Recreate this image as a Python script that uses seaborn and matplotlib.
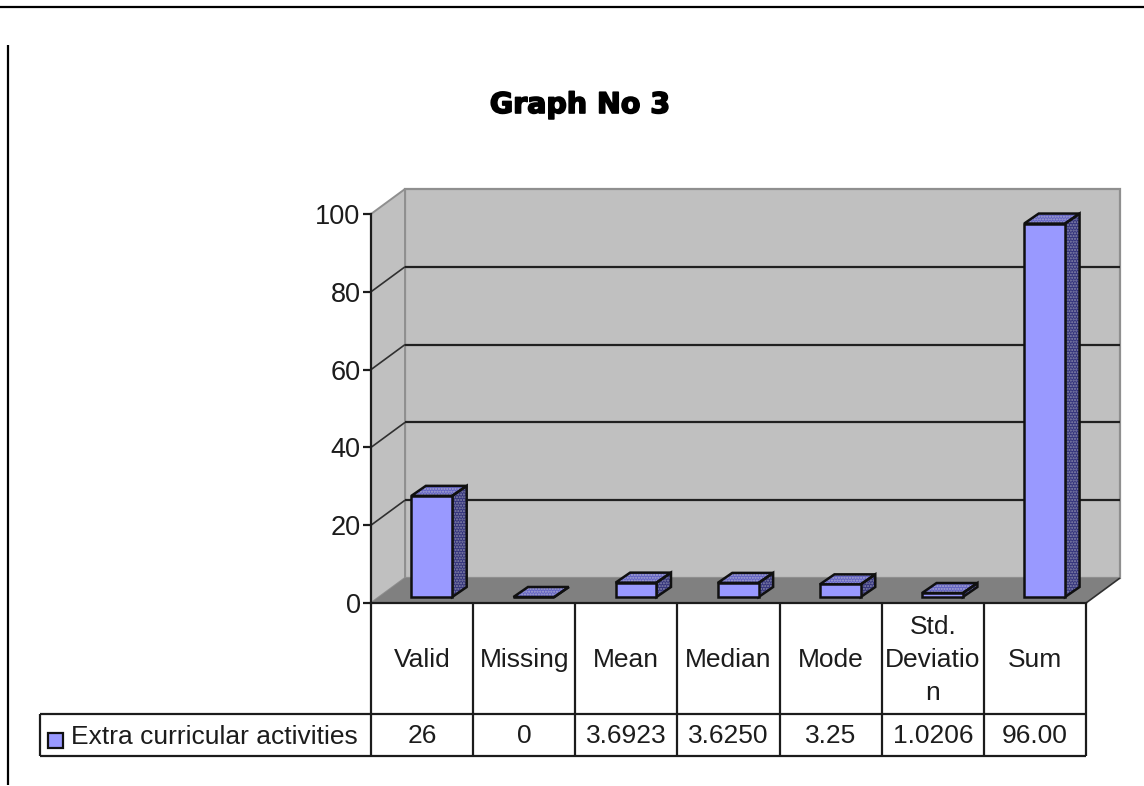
import matplotlib
matplotlib.use("Agg")
import matplotlib.pyplot as plt
import matplotlib.patheffects as pe
from matplotlib.patches import Polygon, Rectangle
import seaborn as sns
import pandas as pd

# Descriptive statistics shown as columns and in the data table
categories = ["Valid", "Missing", "Mean", "Median", "Mode", "Std.\nDeviatio\nn", "Sum"]
values = [26, 0, 3.6923, 3.6250, 3.25, 1.0206, 96.00]
value_labels = ["26", "0", "3.6923", "3.6250", "3.25", "1.0206", "96.00"]
y_ticks = [0, 20, 40, 60, 80, 100]
series_name = "Extra curricular activities"
chart_title = "Graph No 3"

W, H = 1144, 786
LEFT, RIGHT, ZERO, TOP = 371, 1086, 603, 214
FRONT = "#9999FF"
INK = "#1c1c1c"

sns.set_theme(style="white")
plt.rcParams["font.family"] = ["Liberation Sans", "DejaVu Sans"]
plt.rcParams["hatch.linewidth"] = 1.0

fig = plt.figure(figsize=(W / 100, H / 100), dpi=100, facecolor="white")
ax = fig.add_axes([LEFT / W, 1 - ZERO / H, (RIGHT - LEFT) / W, (ZERO - TOP) / H])
ax.patch.set_alpha(0)

frame = pd.DataFrame({"stat": categories, "value": values})
sns.barplot(data=frame, x="stat", y="value", color=FRONT, saturation=1, width=0.4,
            edgecolor="#101010", linewidth=1.8, ax=ax, zorder=6)
ax.set_xlim(-0.5, 6.5)
ax.set_ylim(0, 100)
ax.set_xlabel("")
ax.set_ylabel("")

# Pixel lengths expressed in data units, for the oblique projection
UX = (len(categories)) / (RIGHT - LEFT)
UY = 100 / (ZERO - TOP)


def px(x):
    return -0.5 + (x - LEFT) * UX


def py(y):
    return (ZERO - y) * UY


WALL_DX, WALL_DY = 34 * UX, 25 * UY
BAR_SHIFT_X, BAR_SHIFT_Y = 9.7 * UX, 6 * UY
DEPTH_X, DEPTH_Y = 14.5 * UX, 10 * UY
X0, X1 = -0.5, 6.5


def poly(points, **kw):
    kw.setdefault("clip_on", False)
    ax.add_patch(Polygon(points, closed=True, **kw))


def line(xs, ys, color=INK, lw=1.6, z=8):
    ax.plot(xs, ys, color=color, lw=lw, clip_on=False, zorder=z, solid_capstyle="butt")


# Back wall, side wall and floor
poly([(X0 + WALL_DX, WALL_DY), (X0 + WALL_DX, 100 + WALL_DY),
      (X1 + WALL_DX, 100 + WALL_DY), (X1 + WALL_DX, WALL_DY)],
     facecolor="#C0C0C0", edgecolor="#8f8f8f", lw=1.6, zorder=1)
poly([(X0, 0), (X0, 100), (X0 + WALL_DX, 100 + WALL_DY), (X0 + WALL_DX, WALL_DY)],
     facecolor="#C0C0C0", edgecolor="#8f8f8f", lw=1.4, zorder=1)
poly([(X0, 0), (X0 + WALL_DX, WALL_DY), (X1 + WALL_DX, WALL_DY), (X1, 0)],
     facecolor="#808080", edgecolor="none", zorder=2)
line([X1, X1 + WALL_DX], [0, WALL_DY], color="#303030", lw=1.2, z=3)

# Gridlines on the walls
for v in y_ticks[1:-1]:
    line([X0 + WALL_DX, X1 + WALL_DX], [v + WALL_DY, v + WALL_DY], color="#202020", lw=1.6, z=3)
    line([X0, X0 + WALL_DX], [v, v + WALL_DY], color="#303030", lw=1.2, z=3)

# Columns: move each bar onto the floor, then add its top and side faces
for bar in ax.patches:
    if not isinstance(bar, Rectangle):
        continue
    bar.set_x(bar.get_x() + BAR_SHIFT_X)
    bar.set_y(BAR_SHIFT_Y)
    bar.set_clip_on(False)
    x0, x1 = bar.get_x(), bar.get_x() + bar.get_width()
    y0, y1 = BAR_SHIFT_Y, BAR_SHIFT_Y + bar.get_height()
    side = [(x1, y0), (x1, y1), (x1 + DEPTH_X, y1 + DEPTH_Y), (x1 + DEPTH_X, y0 + DEPTH_Y)]
    top = [(x0, y1), (x1, y1), (x1 + DEPTH_X, y1 + DEPTH_Y), (x0 + DEPTH_X, y1 + DEPTH_Y)]
    poly(side, facecolor="#34347C", edgecolor="#8888AA", hatch="......", lw=0, zorder=4)
    poly(top, facecolor="#6464C4", edgecolor="#A8A8D0", hatch="......", lw=0, zorder=4)
    poly(side, fill=False, edgecolor="#101010", lw=1.8, zorder=5)
    poly(top, fill=False, edgecolor="#101010", lw=1.8, zorder=5)

# Axes styling
sns.despine(ax=ax, top=True, right=True)
for name in ("left", "bottom"):
    ax.spines[name].set_color(INK)
    ax.spines[name].set_linewidth(1.6)
    ax.spines[name].set_zorder(9)
ax.set_yticks(y_ticks)
ax.tick_params(axis="y", length=6, width=1.6, color=INK, pad=1.5, labelsize=19.5, labelcolor=INK, left=True)
ax.set_xticks(range(len(categories)), categories)
ax.tick_params(axis="x", length=0, pad=41, labelsize=19, labelcolor=INK)
for label in ax.get_xticklabels():
    label.set_verticalalignment("center")
    label.set_linespacing(1.47)

# Data table below the plot
ROW1, ROW2, ROW3 = 603, 714, 756
for i in range(len(categories) + 1):
    line([X0 + i, X0 + i], [py(ROW1), py(ROW3)])
line([px(40), X1], [py(ROW2), py(ROW2)])
line([px(40), X1], [py(ROW3), py(ROW3)])
line([px(40), px(40)], [py(ROW2), py(ROW3)])
for i, text in enumerate(value_labels):
    ax.text(i, py(736), text, ha="center", va="center", fontsize=19, color=INK, clip_on=False)

# Legend key and series name in the table's first cell
ax.add_patch(Rectangle((px(48), py(748)), 15 * UX, 15 * UY, facecolor=FRONT,
                       edgecolor="#101010", lw=1.6, clip_on=False, zorder=8))
ax.text(px(71), py(737), series_name, ha="left", va="center", fontsize=19,
        color=INK, clip_on=False)

# Page rules around the chart
line([px(0), px(W)], [py(7), py(7)], color="black", lw=1.6)
line([px(8), px(8)], [py(45), py(785)], color="black", lw=1.6)

# Title
ax.text(px(580), py(105), chart_title, ha="center", va="center", fontsize=20.5,
        fontweight="bold", family="DejaVu Sans", color="black", clip_on=False,
        path_effects=[pe.withStroke(linewidth=1.2, foreground="black")])

fig.savefig("out.png", dpi=100, facecolor="white")
